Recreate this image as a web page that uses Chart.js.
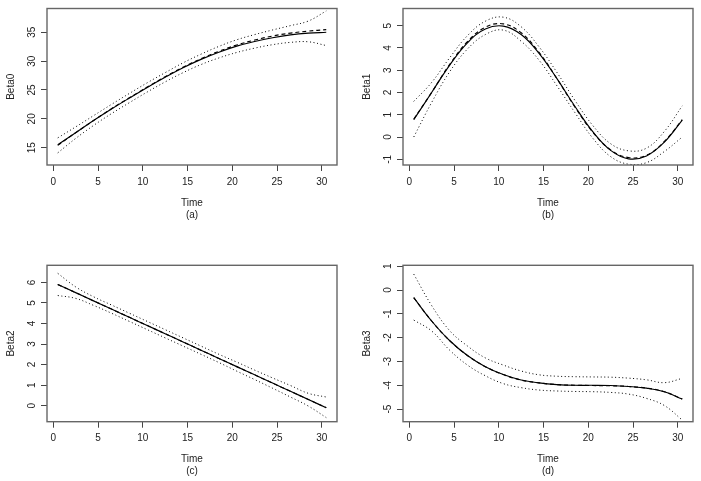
<!DOCTYPE html>
<html>
<head>
<meta charset="utf-8">
<script src="https://cdn.jsdelivr.net/npm/chart.js@4.4.1/dist/chart.umd.min.js"></script>
<style>
  html, body { margin: 0; padding: 0; background: #fff; }
  #wrap { position: relative; width: 701px; height: 481px; overflow: hidden; background: #fff; }
  canvas { position: absolute; }
</style>
</head>
<body>
<div id="wrap">
  <canvas id="pa" width="350" height="240" style="left:0;top:0"></canvas>
  <canvas id="pb" width="351" height="240" style="left:350px;top:0"></canvas>
  <canvas id="pc" width="350" height="241" style="left:0;top:240px"></canvas>
  <canvas id="pd" width="351" height="241" style="left:350px;top:240px"></canvas>
</div>
<script>
// time grid the curves were read at
const TIME = [0.5, 2.5, 4.5, 6.5, 8.5, 10.5, 12.5, 14.5, 16.5, 18.5, 20.5, 22.5, 24.5, 26.5, 28.5, 30.5];
const X_TICKS = [0, 5, 10, 15, 20, 25, 30];

// (a) Beta0
const BETA0_EST   = [15.5, 17.6, 19.7, 21.7, 23.6, 25.45, 27.2, 28.85, 30.3, 31.55, 32.6, 33.4, 34.05, 34.55, 34.85, 35.0];
const BETA0_TRUE  = [15.4, 17.6, 19.7, 21.75, 23.65, 25.5, 27.3, 28.95, 30.4, 31.7, 32.8, 33.65, 34.35, 34.85, 35.2, 35.45];
const BETA0_UPPER = [16.7, 18.6, 20.55, 22.5, 24.4, 26.25, 28.0, 29.7, 31.2, 32.55, 33.7, 34.6, 35.4, 36.15, 36.95, 38.7];
const BETA0_LOWER = [14.1, 16.6, 18.85, 20.9, 22.8, 24.65, 26.4, 28.0, 29.4, 30.55, 31.5, 32.25, 32.85, 33.25, 33.35, 32.7];
const BETA0_TICKS = [15, 20, 25, 30, 35];

// (b) Beta1
const BETA1_EST   = [0.78, 2.0, 3.22, 4.23, 4.85, 4.98, 4.60, 3.76, 2.62, 1.38, 0.24, -0.60, -0.98, -0.85, -0.23, 0.76];
const BETA1_TRUE  = [0.80, 2.0, 3.25, 4.28, 4.93, 5.08, 4.68, 3.80, 2.62, 1.35, 0.22, -0.58, -0.92, -0.82, -0.20, 0.78];
const BETA1_UPPER = [1.60, 2.45, 3.55, 4.55, 5.20, 5.38, 4.95, 4.05, 2.90, 1.65, 0.52, -0.30, -0.62, -0.50, 0.25, 1.40];
const BETA1_LOWER = [0.00, 1.55, 2.92, 3.95, 4.60, 4.80, 4.30, 3.45, 2.30, 1.10, -0.05, -0.88, -1.22, -1.15, -0.65, 0.00];
const BETA1_TICKS = [-1, 0, 1, 2, 3, 4, 5];

// (c) Beta2
const BETA2_EST   = [5.9, 5.5, 5.1, 4.7, 4.3, 3.9, 3.5, 3.1, 2.7, 2.3, 1.9, 1.5, 1.1, 0.7, 0.3, -0.1];
const BETA2_TRUE  = [5.9, 5.5, 5.1, 4.7, 4.3, 3.9, 3.5, 3.1, 2.7, 2.3, 1.9, 1.5, 1.1, 0.7, 0.3, -0.1];
const BETA2_UPPER = [6.44, 5.78, 5.3, 4.9, 4.5, 4.1, 3.7, 3.3, 2.9, 2.5, 2.12, 1.73, 1.35, 0.98, 0.6, 0.42];
const BETA2_LOWER = [5.36, 5.22, 4.88, 4.5, 4.1, 3.7, 3.3, 2.9, 2.5, 2.1, 1.68, 1.27, 0.85, 0.42, -0.02, -0.58];
const BETA2_TICKS = [0, 1, 2, 3, 4, 5, 6];

// (d) Beta3
const BETA3_EST   = [-0.32, -1.30, -2.12, -2.75, -3.22, -3.55, -3.78, -3.90, -3.97, -4.00, -4.00, -4.01, -4.05, -4.12, -4.27, -4.58];
const BETA3_TRUE  = [-0.32, -1.30, -2.12, -2.75, -3.22, -3.55, -3.78, -3.90, -3.97, -4.00, -4.01, -4.02, -4.05, -4.12, -4.27, -4.58];
const BETA3_UPPER = [0.67, -0.65, -1.70, -2.35, -2.85, -3.15, -3.40, -3.56, -3.62, -3.64, -3.65, -3.66, -3.70, -3.77, -3.89, -3.71];
const BETA3_LOWER = [-1.26, -1.72, -2.52, -3.15, -3.60, -3.93, -4.10, -4.20, -4.24, -4.26, -4.27, -4.30, -4.37, -4.55, -4.85, -5.46];
const BETA3_TICKS = [-5, -4, -3, -2, -1, 0, 1];

const FONT = { family: '"Liberation Sans", Arial, Helvetica, sans-serif', size: 10 };
const TEXT = '#222';

// R-like box and rotated y tick labels
const rStyle = {
    id: 'rStyle',
    afterDraw(chart) {
        const { ctx, chartArea: a, scales } = chart;
        ctx.save();
        ctx.strokeStyle = '#666';
        ctx.lineWidth = 1.4;
        ctx.strokeRect(a.left, a.top, a.right - a.left, a.bottom - a.top);

        ctx.fillStyle = TEXT;
        ctx.font = `${FONT.size}px ${FONT.family}`;
        ctx.textAlign = 'center';
        ctx.textBaseline = 'middle';
        scales.y.ticks.forEach(t => {
            const py = scales.y.getPixelForValue(t.value);
            ctx.save();
            ctx.translate(a.left - 15, py);
            ctx.rotate(-Math.PI / 2);
            ctx.fillText(String(t.value), 0, 0);
            ctx.restore();
        });
        ctx.restore();
    }
};

function series(vals) {
    return TIME.map((t, i) => ({ x: t, y: vals[i] }));
}

function makePanel(id, geo, yName, sub, yRange, yTicks, est, tru, up, lo) {
    const canvas = document.getElementById(id);
    const W = canvas.width, H = canvas.height;
    const line = (data, dash, width) => ({
        data: series(data),
        borderColor: '#000',
        borderWidth: width,
        borderDash: dash,
        pointRadius: 0,
        tension: 0.4,
        fill: false
    });

    return new Chart(canvas.getContext('2d'), {
        type: 'line',
        data: {
            datasets: [
                line(est, [], 1.15),
                line(tru, [4, 3], 1.15),
                line(up, [1, 2.6], 1),
                line(lo, [1, 2.6], 1)
            ]
        },
        options: {
            responsive: false,
            animation: false,
            events: [],
            layout: { padding: { left: 0, top: geo.T, right: W - geo.R, bottom: 0 } },
            plugins: { legend: { display: false }, tooltip: { enabled: false } },
            scales: {
                x: {
                    type: 'linear',
                    min: -0.7,
                    max: 31.7,
                    afterBuildTicks: s => { s.ticks = X_TICKS.map(v => ({ value: v })); },
                    afterFit: s => { s.height = H - geo.B; },
                    grid: { drawOnChartArea: false, drawTicks: true, tickLength: 6, color: '#444' },
                    border: { display: false },
                    ticks: { font: FONT, color: TEXT, padding: 5, maxRotation: 0, autoSkip: false },
                    title: {
                        display: true,
                        text: ['Time', sub],
                        font: FONT,
                        color: TEXT,
                        padding: { top: 0, bottom: H - (geo.B + 50) - 6 }
                    }
                },
                y: {
                    type: 'linear',
                    min: yRange[0],
                    max: yRange[1],
                    afterBuildTicks: s => { s.ticks = yTicks.map(v => ({ value: v })); },
                    afterFit: s => { s.width = geo.L; },
                    grid: { drawOnChartArea: false, drawTicks: true, tickLength: 6, color: '#444' },
                    border: { display: false },
                    ticks: { display: false },
                    title: {
                        display: true,
                        text: yName,
                        font: FONT,
                        color: TEXT,
                        padding: { top: geo.L - 35.5 - 6, bottom: 0 }
                    }
                }
            }
        },
        plugins: [rStyle]
    });
}

makePanel('pa', { L: 47, T: 8.5, R: 337, B: 165 }, 'Beta0', '(a)', [12.0, 39.12], BETA0_TICKS,
    BETA0_EST, BETA0_TRUE, BETA0_UPPER, BETA0_LOWER);
makePanel('pb', { L: 53, T: 8.5, R: 343, B: 165 }, 'Beta1', '(b)', [-1.256, 5.77], BETA1_TICKS,
    BETA1_EST, BETA1_TRUE, BETA1_UPPER, BETA1_LOWER);
makePanel('pc', { L: 47, T: 25.3, R: 337, B: 181.7 }, 'Beta2', '(c)', [-0.78, 6.83], BETA2_TICKS,
    BETA2_EST, BETA2_TRUE, BETA2_UPPER, BETA2_LOWER);
makePanel('pd', { L: 53, T: 25.3, R: 343, B: 181.7 }, 'Beta3', '(d)', [-5.53, 1.04], BETA3_TICKS,
    BETA3_EST, BETA3_TRUE, BETA3_UPPER, BETA3_LOWER);
</script>
</body>
</html>
